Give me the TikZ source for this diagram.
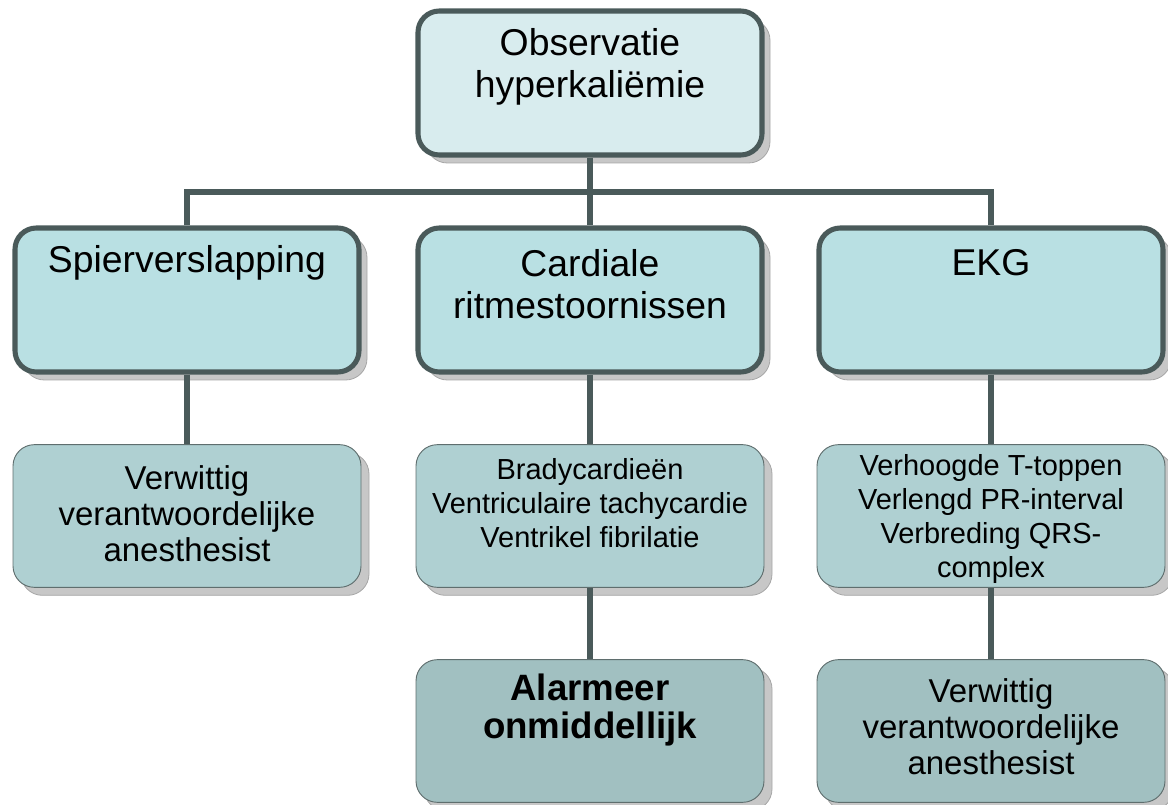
\documentclass[tikz,border=0pt]{standalone}
\usepackage{fontspec}
\setmainfont{Liberation Sans}
\usetikzlibrary{shadows}
\definecolor{edgegray}{RGB}{74,90,90}
\definecolor{thinedge}{RGB}{95,110,110}
\definecolor{topfill}{RGB}{216,236,238}
\definecolor{lvlone}{RGB}{185,224,227}
\definecolor{lvltwo}{RGB}{175,208,210}
\definecolor{lvlthree}{RGB}{161,192,193}
\begin{document}
\begin{tikzpicture}[x=0.75pt, y=-0.75pt,
  shade box/.style={general shadow={shadow xshift=6pt, shadow yshift=-6pt,
      fill=black!22, draw=black!35, line width=0.6pt}},
  bigbox/.style={shade box, draw=edgegray, line width=3.8pt, rounded corners=16pt,
      minimum width=258pt, minimum height=108pt},
  smallbox/.style={shade box, draw=thinedge, line width=0.7pt, rounded corners=16pt,
      minimum width=261pt, minimum height=107pt},
  conn/.style={draw=edgegray, line width=4pt},
  bigtxt/.style={align=center, font=\fontsize{28}{32}\selectfont},
  midtxt/.style={align=center, font=\fontsize{24.75}{27}\selectfont},
  smalltxt/.style={align=center, font=\fontsize{21.75}{25.5}\selectfont}]
  \useasboundingbox (0,0) rectangle (1168,805);

  % boxes
  \node[bigbox, fill=topfill] (obs) at (590,83) {};
  \node[bigbox, fill=lvlone] (spier) at (187,300) {};
  \node[bigbox, fill=lvlone] (card) at (590,300) {};
  \node[bigbox, fill=lvlone] (ekg) at (991,300) {};
  \node[smallbox, fill=lvltwo] (spierA) at (187,516) {};
  \node[smallbox, fill=lvltwo] (cardA) at (590,516) {};
  \node[smallbox, fill=lvltwo] (ekgA) at (991,516) {};
  \node[smallbox, fill=lvlthree] (alarm) at (590,731) {};
  \node[smallbox, fill=lvlthree] (ekgB) at (991,731) {};

  % connectors
  \coordinate (bus) at (590,192);
  \draw[conn] (obs.south) -- (card.north);
  \draw[conn] (spier.north) |- (bus) -| (ekg.north);
  \draw[conn] (spier.south) -- (spierA.north);
  \draw[conn] (card.south) -- (cardA.north);
  \draw[conn] (cardA.south) -- (alarm.north);
  \draw[conn] (ekg.south) -- (ekgA.north);
  \draw[conn] (ekgA.south) -- (ekgB.north);

  % texts
  \node[bigtxt] (obsT) at (590,67) {Observatie\\hyperkaliëmie};
  \node[bigtxt] (spierT) at (187,263) {Spierverslapping};
  \node[bigtxt] (cardT) at (590,284) {Cardiale\\ritmestoornissen};
  \node[bigtxt] (ekgT) at (991,263) {EKG};
  \node[midtxt] (spierAT) at (187,514) {Verwittig\\verantwoordelijke\\anesthesist};
  \node[smalltxt] (cardAT) at (590,503) {Bradycardieën\\Ventriculaire tachycardie\\Ventrikel fibrilatie};
  \node[smalltxt] (ekgAT) at (991,519) {Verhoogde T-toppen\\Verlengd PR-interval\\Verbreding QRS-\\complex};
  \node[midtxt, font=\fontsize{27.5}{28.5}\selectfont\bfseries] (alarmT) at (590,710) {Alarmeer\\onmiddellijk};
  \node[midtxt] (ekgBT) at (991,727) {Verwittig\\verantwoordelijke\\anesthesist};
\end{tikzpicture}
\end{document}
